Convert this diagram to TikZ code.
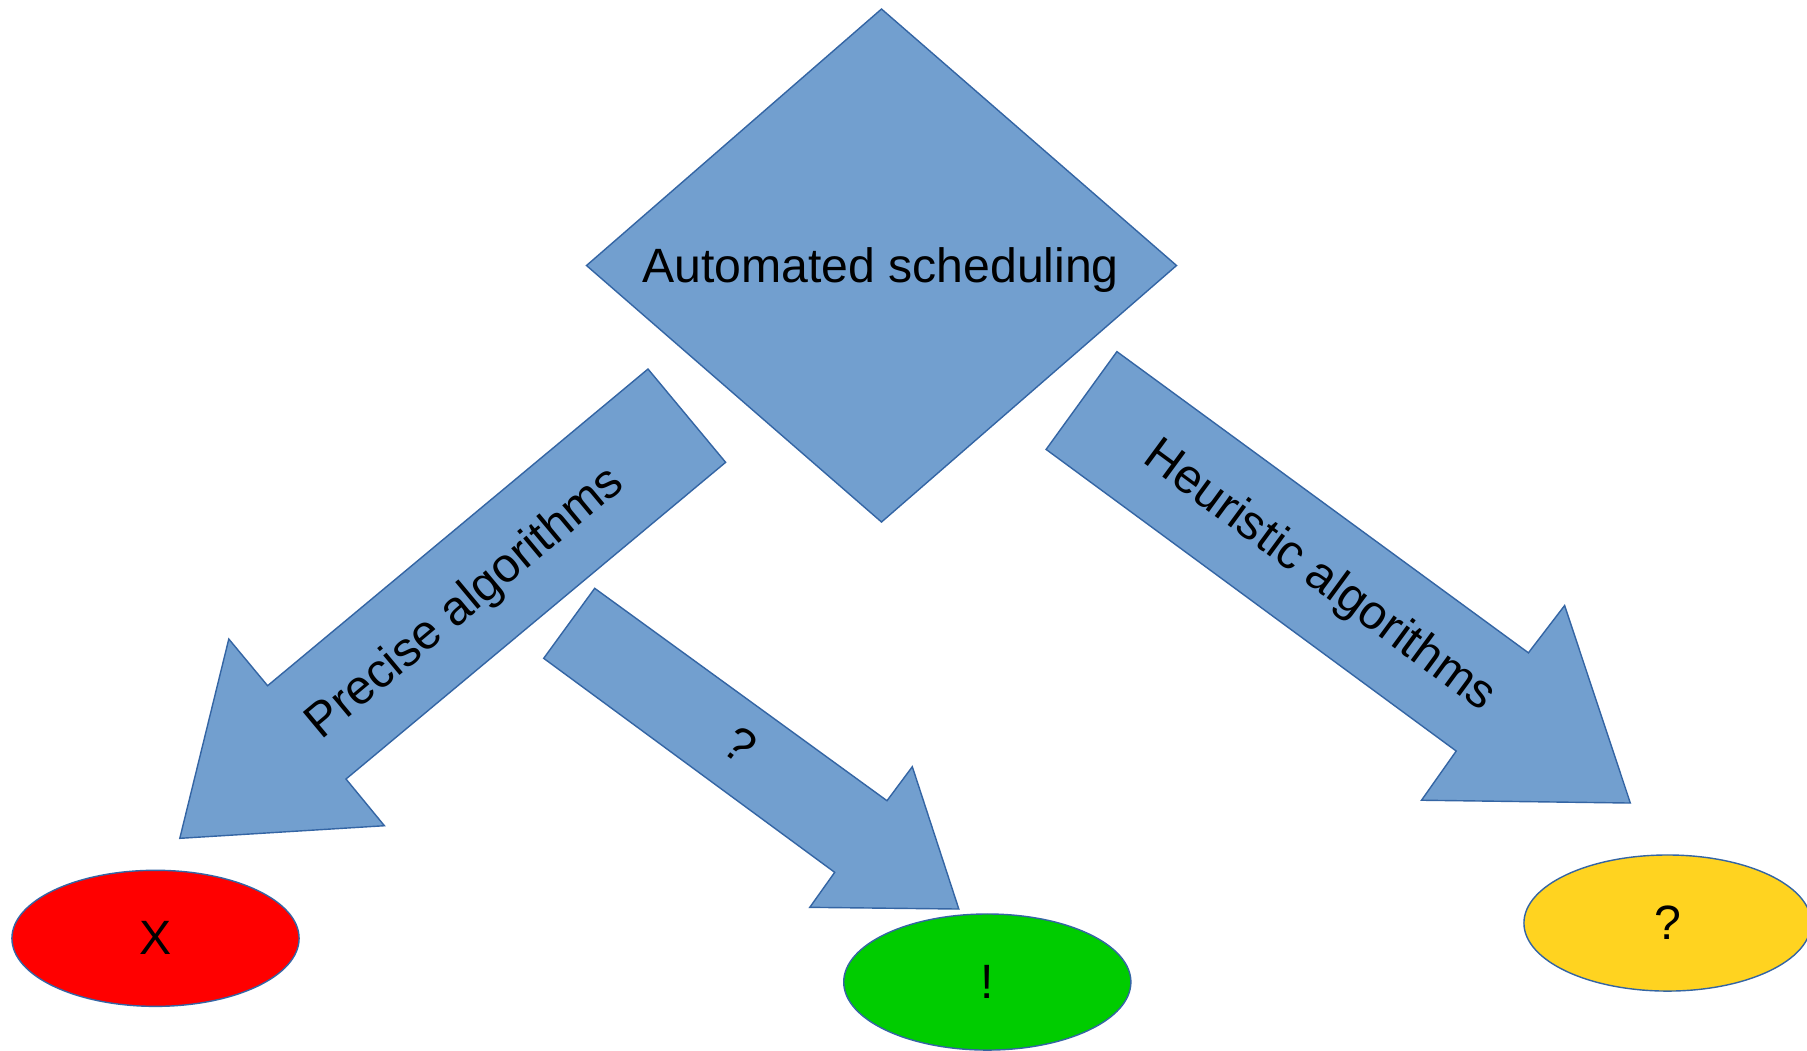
\documentclass[tikz,border=0pt]{standalone}
\usepackage{fontspec}
\setmainfont{Liberation Sans}
\usetikzlibrary{shapes.geometric}
\definecolor{boxblue}{HTML}{729FCF}
\definecolor{edgeblue}{HTML}{3465A4}
\definecolor{okgreen}{HTML}{00CC00}
\definecolor{warnyellow}{HTML}{FFD320}
\begin{document}
\begin{tikzpicture}[x=0.01cm,y=-0.01cm,
  shapebox/.style={fill=boxblue,draw=edgeblue,line width=0.4pt,line join=miter},
  lbl/.style={font=\fontsize{13.7}{16}\selectfont,text=black,inner sep=0pt},
  blob/.style={ellipse,draw=edgeblue,line width=0.4pt,minimum width=2.87cm,minimum height=1.36cm,inner sep=0pt,font=\fontsize{13.7}{16}\selectfont,text=black}]
\useasboundingbox (0,0) rectangle (1807,1050);
\fill[white] (0,0) rectangle (1807,1050);

% central diamond
\draw[shapebox] (881.5,9) -- (1176.5,265.5) -- (881.5,522) -- (586.5,265.5) -- cycle;
\node[lbl,anchor=base] (auto) at (880.5,282.5) {Automated scheduling};

% block arrow: precise algorithms
\draw[shapebox] (648,369) -- (725.6,462.3) -- (346,779) -- (384.4,825.7) -- (179.8,838.3) -- (228.8,639) -- (267.6,685.7) -- cycle;
\node[lbl,rotate=39.8] (prec) at (466,604) {Precise algorithms};

% block arrow: ?
\draw[shapebox] (594.7,588.3) -- (887,800.7) -- (912.3,766.7) -- (958.8,909) -- (809.8,907.3) -- (834.7,872.3) -- (543.7,658.3) -- cycle;
\node[lbl,rotate=-36.2] (mid) at (740.5,745) {?};

% block arrow: heuristic algorithms
\draw[shapebox] (1116.9,351.6) -- (1528.4,652.8) -- (1564.6,605.5) -- (1630.3,803) -- (1421.5,800.2) -- (1456.2,751) -- (1046.1,449.4) -- cycle;
\node[lbl,rotate=-36.3] (heur) at (1319,577) {Heuristic algorithms};

% outcome ellipses
\node[blob,fill=red] (xres) at (155.5,938.3) {X};
\node[blob,fill=okgreen] (exres) at (987.3,982) {!};
\node[blob,fill=warnyellow] (qres) at (1667.5,923) {?};
\end{tikzpicture}
\end{document}
